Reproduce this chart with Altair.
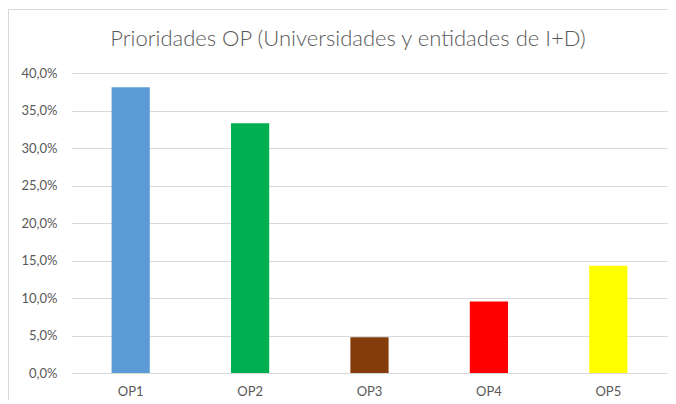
import altair as alt
import pandas as pd

categories = ["OP1", "OP2", "OP3", "OP4", "OP5"]
values = [0.381, 0.333, 0.0476, 0.0952, 0.1429]
colors = ["#5B9BD5", "#00B050", "#843C0C", "#FF0000", "#FFFF00"]
title_text = ["Prioridades OP (Universidades y entidades de I+D)"]

df = pd.DataFrame({"cat": categories, "val": values, "color": colors})
tdf = pd.DataFrame({"t": title_text})

FONT = "Lato"
GREY = "#595959"

bars = alt.Chart(df).mark_bar().encode(
    x=alt.X("cat:N", sort=categories, title=None,
            scale=alt.Scale(paddingInner=0.68, paddingOuter=0.34),
            axis=alt.Axis(labelAngle=0, domain=False, ticks=False, labelPadding=12,
                          labelFont=FONT, labelFontSize=13, labelColor=GREY)),
    y=alt.Y("val:Q", title=None,
            scale=alt.Scale(domain=[0, 0.4], nice=False),
            axis=alt.Axis(values=[0, 0.05, 0.1, 0.15, 0.2, 0.25, 0.3, 0.35, 0.4],
                          labelExpr="replace(format(datum.value, '.1%'), '.', ',')",
                          domain=False, ticks=False, labelPadding=14,
                          labelFont=FONT, labelFontSize=13, labelColor=GREY,
                          gridColor="#D9D9D9", gridWidth=1)),
    color=alt.Color("color:N", scale=None, legend=None),
)

title = alt.Chart(tdf).mark_text(font=FONT, fontSize=22, fontWeight=300, color=GREY,
                                 align="center", baseline="alphabetic").encode(
    text="t:N", x=alt.value(277), y=alt.value(-27))

border_v = alt.Chart(tdf).mark_rule(color="#D9D9D9", strokeWidth=1).encode(
    x=alt.value(-62.5), y=alt.value(-64), y2=alt.value(330))
border_h = alt.Chart(tdf).mark_rule(color="#D9D9D9", strokeWidth=1).encode(
    y=alt.value(-63.5), x=alt.value(-63), x2=alt.value(620))

chart = alt.layer(bars, title, border_v, border_h).properties(
    width=597, height=300,
    autosize=alt.AutoSizeParams(type="none"),
    padding={"left": 63, "top": 65, "right": 0, "bottom": 27},
).configure(background="white").configure_view(strokeWidth=0, stroke="transparent")

chart.save("out.html", embed_options={"renderer": "svg", "actions": False})
